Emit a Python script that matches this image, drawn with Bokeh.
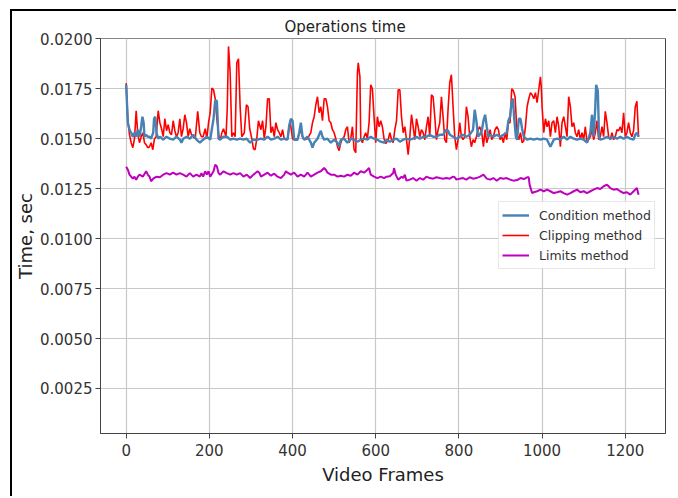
from bokeh.plotting import figure
from bokeh.models import (Range1d, FixedTicker, NumeralTickFormatter, Legend,
                          LegendItem)
from bokeh.embed import file_html
from bokeh.resources import INLINE

# ---- data: (frame, seconds) per method ----
clipping = [
    (0, 0.01778), (4, 0.0159), (8, 0.0152), (12, 0.0148), (16, 0.01455), (20, 0.0150),
    (24, 0.0164), (28, 0.0152), (32, 0.0148), (36, 0.0151), (40, 0.0153), (44, 0.0148),
    (48, 0.0147), (52, 0.01455), (56, 0.0146), (60, 0.0148), (64, 0.01445), (68, 0.0150),
    (72, 0.0151), (77, 0.0164), (81, 0.0158), (85, 0.0155), (89, 0.0151), (93, 0.0160),
    (97, 0.0154), (101, 0.0157), (105, 0.0153), (109, 0.0152), (113, 0.0159), (117, 0.0154),
    (121, 0.0151), (125, 0.0153), (129, 0.0160), (133, 0.0151), (137, 0.0155), (141, 0.0162),
    (145, 0.0158), (149, 0.0151), (153, 0.0155), (157, 0.0152), (161, 0.0151), (166, 0.0150),
    (172, 0.01637), (177, 0.0153), (181, 0.0151), (185, 0.0151), (190, 0.0155), (194, 0.0150),
    (198, 0.0158), (202, 0.0163), (206, 0.01753), (210, 0.01745), (214, 0.0170), (218, 0.0160),
    (223, 0.0151), (227, 0.0150), (230, 0.0153), (234, 0.0155), (240, 0.0151), (243, 0.0165),
    (246, 0.01962), (250, 0.0183), (254, 0.0151), (258, 0.0153), (262, 0.0151), (266, 0.0188),
    (270, 0.0190), (274, 0.0166), (278, 0.0151), (284, 0.0153), (289, 0.0167), (293, 0.0166),
    (297, 0.0155), (302, 0.0150), (306, 0.0145), (310, 0.01445), (314, 0.0150), (318, 0.0159),
    (324, 0.01545), (328, 0.0159), (332, 0.0150), (336, 0.0156), (340, 0.0170), (344, 0.0170),
    (348, 0.0153), (352, 0.0156), (356, 0.0151), (360, 0.0158), (364, 0.01545), (368, 0.0153),
    (372, 0.0151), (376, 0.01545), (380, 0.0150), (384, 0.01495), (388, 0.0150), (394, 0.0159),
    (400, 0.0150), (404, 0.01495), (412, 0.0150), (420, 0.01545), (424, 0.0151), (428, 0.01495),
    (436, 0.0150), (444, 0.0153), (448, 0.0158), (452, 0.0161), (456, 0.0167), (460, 0.0171),
    (464, 0.0163), (468, 0.0166), (472, 0.0159), (476, 0.0170), (480, 0.0170), (484, 0.0166),
    (488, 0.0159), (492, 0.0158), (496, 0.01545), (500, 0.0153), (504, 0.0150), (508, 0.0146),
    (512, 0.0144), (516, 0.0148), (520, 0.0150), (524, 0.0151), (528, 0.01545), (532, 0.0156),
    (536, 0.0148), (540, 0.0150), (544, 0.0156), (548, 0.01445), (552, 0.0143), (556, 0.0183),
    (558, 0.0188), (562, 0.0181), (564, 0.0150), (568, 0.0148), (572, 0.0151), (576, 0.0153),
    (580, 0.0150), (584, 0.0158), (588, 0.0177), (592, 0.0175), (596, 0.0161), (600, 0.0148),
    (604, 0.0161), (608, 0.0156), (612, 0.0159), (616, 0.0156), (620, 0.0150), (624, 0.01475),
    (630, 0.01495), (634, 0.0153), (638, 0.01495), (642, 0.0148), (646, 0.01545), (650, 0.0159),
    (654, 0.01745), (658, 0.01745), (662, 0.0161), (666, 0.0153), (670, 0.0156), (674, 0.01495),
    (678, 0.0142), (682, 0.0151), (686, 0.0162), (690, 0.0156), (694, 0.01495), (698, 0.0160),
    (702, 0.0156), (706, 0.0151), (710, 0.01545), (714, 0.0153), (718, 0.01495), (722, 0.0156),
    (726, 0.0161), (730, 0.0151), (734, 0.0172), (738, 0.0171), (742, 0.0161), (746, 0.01495),
    (750, 0.01545), (754, 0.0158), (758, 0.0171), (762, 0.0161), (766, 0.01495), (770, 0.0148),
    (774, 0.0165), (778, 0.0178), (782, 0.0182), (786, 0.0166), (790, 0.0151), (794, 0.01445),
    (798, 0.01495), (802, 0.0158), (806, 0.0151), (810, 0.01495), (814, 0.0151), (818, 0.0166),
    (822, 0.0161), (826, 0.0151), (830, 0.0146), (834, 0.01495), (838, 0.0148), (842, 0.0151),
    (846, 0.01545), (850, 0.0156), (855, 0.0153), (859, 0.0146), (863, 0.01545), (867, 0.0148),
    (871, 0.0151), (875, 0.01545), (879, 0.01495), (883, 0.0151), (887, 0.01545), (891, 0.0156),
    (895, 0.01545), (899, 0.01495), (903, 0.0151), (907, 0.0148), (911, 0.0153), (915, 0.01495),
    (919, 0.0158), (923, 0.0158), (927, 0.0175), (931, 0.0174), (935, 0.0171), (940, 0.0152),
    (944, 0.01495), (948, 0.0153), (952, 0.0148), (956, 0.0149), (960, 0.0156), (964, 0.0166),
    (968, 0.0170), (972, 0.0173), (976, 0.0172), (980, 0.0170), (984, 0.0173), (988, 0.0168),
    (992, 0.01745), (996, 0.0181), (998, 0.0176), (1000, 0.0166), (1004, 0.0153), (1008, 0.0160),
    (1012, 0.0156), (1016, 0.0159), (1020, 0.0151), (1024, 0.0158), (1028, 0.0159), (1032, 0.0153),
    (1036, 0.0161), (1040, 0.0156), (1044, 0.0146), (1048, 0.0158), (1052, 0.0161), (1056, 0.0156),
    (1060, 0.0151), (1064, 0.0171), (1068, 0.0166), (1072, 0.0156), (1076, 0.0158), (1080, 0.0153),
    (1084, 0.0151), (1088, 0.01545), (1092, 0.01495), (1096, 0.0153), (1100, 0.01495), (1104, 0.0156),
    (1108, 0.0148), (1112, 0.01495), (1116, 0.0151), (1120, 0.01545), (1124, 0.01495), (1128, 0.0153),
    (1132, 0.0159), (1136, 0.01495), (1140, 0.0151), (1144, 0.0156), (1148, 0.0151), (1152, 0.01637),
    (1156, 0.0158), (1160, 0.0151), (1164, 0.01495), (1168, 0.0153), (1172, 0.01495), (1176, 0.0151),
    (1180, 0.01545), (1184, 0.0154), (1188, 0.0156), (1192, 0.0153), (1196, 0.0163), (1200, 0.0151),
    (1204, 0.0153), (1208, 0.0158), (1212, 0.0153), (1216, 0.0151), (1220, 0.0154), (1224, 0.0166),
    (1228, 0.01687), (1232, 0.0151),
]

condition = [
    (0, 0.0177), (4, 0.0158), (8, 0.01545), (12, 0.0153), (16, 0.0151), (20, 0.0153),
    (24, 0.0151), (28, 0.01545), (32, 0.0151), (36, 0.0156), (39, 0.0161), (42, 0.0158),
    (44, 0.0151), (48, 0.0152), (52, 0.0151), (56, 0.0151), (60, 0.0150), (65, 0.0153),
    (67, 0.0160), (70, 0.0161), (73, 0.0153), (77, 0.0150), (81, 0.0151), (89, 0.01495),
    (97, 0.0151), (105, 0.0150), (113, 0.01495), (121, 0.0151), (129, 0.01495), (133, 0.0148),
    (137, 0.0150), (145, 0.0151), (153, 0.0150), (161, 0.0152), (169, 0.01495), (177, 0.0148),
    (185, 0.01495), (194, 0.0151), (202, 0.01495), (210, 0.0160), (214, 0.0169), (218, 0.0169),
    (222, 0.0150), (226, 0.01495), (234, 0.0151), (242, 0.0151), (250, 0.01495), (258, 0.0150),
    (266, 0.01495), (274, 0.0150), (282, 0.01495), (290, 0.0150), (298, 0.0148), (306, 0.01495),
    (316, 0.01495), (324, 0.0150), (332, 0.01495), (340, 0.0151), (348, 0.01495), (356, 0.0150),
    (364, 0.0151), (372, 0.01495), (380, 0.0150), (388, 0.01495), (392, 0.01565), (396, 0.0160),
    (400, 0.0159), (404, 0.01495), (412, 0.01495), (416, 0.0153), (420, 0.0158), (424, 0.0151),
    (428, 0.01495), (436, 0.0151), (444, 0.0148), (448, 0.01455), (452, 0.0148), (460, 0.0150),
    (464, 0.0152), (468, 0.0154), (472, 0.0151), (476, 0.01495), (484, 0.0150), (492, 0.0148),
    (500, 0.01495), (508, 0.0148), (512, 0.0146), (516, 0.01495), (524, 0.0150), (532, 0.0148),
    (540, 0.0150), (548, 0.01495), (556, 0.01485), (564, 0.01495), (572, 0.0150), (580, 0.01495),
    (588, 0.0151), (596, 0.0150), (604, 0.01495), (612, 0.01485), (620, 0.0148), (626, 0.01495),
    (634, 0.01485), (642, 0.01495), (650, 0.0150), (658, 0.01485), (666, 0.01495), (674, 0.0150),
    (682, 0.01495), (690, 0.0150), (698, 0.0151), (706, 0.0150), (714, 0.0151), (722, 0.0151),
    (730, 0.0152), (738, 0.0151), (746, 0.0151), (754, 0.0152), (762, 0.0152), (770, 0.01545),
    (774, 0.0154), (778, 0.0152), (786, 0.0151), (794, 0.0150), (802, 0.0151), (810, 0.0152),
    (818, 0.0151), (826, 0.0152), (834, 0.01545), (838, 0.01645), (842, 0.0159), (846, 0.0151),
    (850, 0.0152), (855, 0.0154), (859, 0.0159), (863, 0.0162), (867, 0.0156), (871, 0.0151),
    (875, 0.0152), (883, 0.0151), (891, 0.0152), (899, 0.0151), (907, 0.0152), (915, 0.0153),
    (919, 0.0159), (923, 0.0161), (927, 0.0169), (930, 0.0170), (933, 0.0160), (937, 0.0151),
    (940, 0.01495), (944, 0.0160), (948, 0.0160), (952, 0.0155), (956, 0.0151), (964, 0.01495),
    (972, 0.0150), (980, 0.01495), (988, 0.0150), (996, 0.01495), (1004, 0.0150), (1012, 0.01495),
    (1020, 0.0146), (1028, 0.01495), (1036, 0.0150), (1044, 0.01495), (1052, 0.0151), (1060, 0.01495),
    (1068, 0.0151), (1076, 0.0150), (1084, 0.01495), (1092, 0.0150), (1100, 0.01495), (1108, 0.0148),
    (1116, 0.0153), (1120, 0.0162), (1124, 0.0151), (1128, 0.0166), (1130, 0.0177), (1134, 0.0174),
    (1137, 0.0151), (1140, 0.01495), (1148, 0.0150), (1156, 0.0151), (1164, 0.0150), (1172, 0.0151),
    (1180, 0.0150), (1188, 0.0151), (1196, 0.0150), (1204, 0.0151), (1212, 0.0150), (1220, 0.01495),
    (1224, 0.0152), (1228, 0.0153), (1232, 0.0151),
]

limits = [
    (0, 0.0136), (4, 0.01345), (8, 0.0132), (12, 0.0131), (16, 0.0130), (20, 0.0131),
    (24, 0.01295), (28, 0.0131), (32, 0.0132), (40, 0.0131), (48, 0.01337), (52, 0.0132),
    (56, 0.0131), (60, 0.01287), (65, 0.0130), (73, 0.0131), (81, 0.01307), (89, 0.0132),
    (97, 0.01328), (105, 0.0132), (113, 0.0133), (121, 0.0132), (129, 0.01328), (137, 0.0132),
    (145, 0.0131), (153, 0.01328), (161, 0.0131), (169, 0.0132), (177, 0.0131), (181, 0.01328),
    (185, 0.0131), (190, 0.01337), (194, 0.0132), (198, 0.01337), (202, 0.0131), (210, 0.01337),
    (214, 0.0137), (218, 0.01362), (222, 0.01328), (226, 0.0132), (234, 0.01337), (242, 0.01328),
    (250, 0.0132), (258, 0.01328), (266, 0.0132), (274, 0.01328), (282, 0.0131), (290, 0.0132),
    (298, 0.01303), (306, 0.0132), (316, 0.01337), (320, 0.0133), (324, 0.0131), (332, 0.0132),
    (340, 0.0133), (348, 0.01315), (356, 0.01325), (364, 0.0131), (372, 0.01303), (380, 0.0132),
    (384, 0.01337), (388, 0.0133), (396, 0.0132), (404, 0.0133), (412, 0.0131), (420, 0.0132),
    (428, 0.0131), (436, 0.0133), (444, 0.0131), (452, 0.0132), (460, 0.0133), (468, 0.01337),
    (476, 0.01353), (480, 0.01345), (484, 0.0133), (492, 0.0132), (500, 0.0132), (508, 0.0131),
    (516, 0.01315), (524, 0.0131), (532, 0.0132), (540, 0.01315), (548, 0.0133), (556, 0.0132),
    (564, 0.01337), (572, 0.0133), (580, 0.01345), (584, 0.01353), (588, 0.0132), (596, 0.0131),
    (604, 0.01303), (612, 0.0131), (620, 0.01303), (626, 0.0131), (634, 0.01312), (642, 0.01328),
    (644, 0.01353), (648, 0.0132), (654, 0.01295), (662, 0.0131), (666, 0.01303), (670, 0.0132),
    (674, 0.0129), (682, 0.01295), (690, 0.01303), (698, 0.0129), (706, 0.01303), (714, 0.01295),
    (722, 0.0131), (730, 0.01303), (738, 0.0130), (746, 0.01307), (754, 0.01303), (762, 0.0130),
    (770, 0.01303), (778, 0.0130), (786, 0.0131), (790, 0.01307), (794, 0.01295), (802, 0.0130),
    (810, 0.01303), (818, 0.01295), (826, 0.01307), (834, 0.0130), (842, 0.01303), (851, 0.0131),
    (859, 0.0132), (863, 0.0131), (867, 0.0130), (875, 0.01295), (883, 0.01303), (891, 0.0129),
    (899, 0.01303), (907, 0.0130), (915, 0.01303), (923, 0.01295), (931, 0.0129), (940, 0.01293),
    (948, 0.01303), (956, 0.01298), (964, 0.01307), (968, 0.01307), (970, 0.0127), (976, 0.01228),
    (980, 0.01232), (988, 0.01237), (996, 0.01245), (1004, 0.01237), (1012, 0.01245), (1020, 0.01237),
    (1028, 0.01228), (1036, 0.01232), (1044, 0.01237), (1052, 0.01228), (1060, 0.0122), (1068, 0.01228),
    (1076, 0.01237), (1084, 0.01245), (1092, 0.01232), (1100, 0.01237), (1108, 0.01228), (1116, 0.01237),
    (1124, 0.01245), (1132, 0.01253), (1140, 0.01248), (1148, 0.01262), (1156, 0.0127), (1160, 0.01262),
    (1164, 0.01253), (1172, 0.01245), (1180, 0.01248), (1188, 0.01237), (1196, 0.01228), (1204, 0.01232),
    (1212, 0.0122), (1220, 0.01237), (1228, 0.01253), (1232, 0.0122),
]

x_ticks = [0, 200, 400, 600, 800, 1000, 1200]
y_ticks = [0.0025, 0.005, 0.0075, 0.01, 0.0125, 0.015, 0.0175, 0.02]

FONT = "DejaVu Sans"

# the figure sits inside a black top/left page rule, offset from the window corner
p = figure(width=666, height=487, output_backend="svg", toolbar_location=None,
           x_range=Range1d(-61.75, 1296.75), y_range=Range1d(0.000246, 0.020015),
           min_border_left=88, min_border_right=13, min_border_top=27,
           min_border_bottom=65, background_fill_color="white",
           border_fill_color="white")
p.margin = (9, 0, 0, 10)
p.styles = {"border-top": "2px solid black", "border-left": "2px solid black"}

p.title.text = "Operations time"
p.title.align = "left"
p.title.offset = 184
p.title.text_font = FONT
p.title.text_font_size = "15px"
p.title.text_font_style = "normal"
p.title.text_color = "#222222"
p.title.standoff = 6

p.outline_line_color = "#444444"
p.outline_line_width = 1

for ax in (p.xaxis[0], p.yaxis[0]):
    ax.axis_line_color = "#444444"
    ax.major_tick_line_color = "#444444"
    ax.major_tick_out = 5
    ax.major_tick_in = 0
    ax.minor_tick_line_color = None
    ax.major_label_text_font = FONT
    ax.major_label_text_font_size = "15px"
    ax.major_label_text_color = "#333333"
    ax.axis_label_text_font = FONT
    ax.axis_label_text_font_size = "18px"
    ax.axis_label_text_font_style = "normal"
    ax.axis_label_text_color = "#222222"

p.xaxis.ticker = FixedTicker(ticks=x_ticks)
p.yaxis.ticker = FixedTicker(ticks=y_ticks)
p.yaxis.formatter = NumeralTickFormatter(format="0.0000")
p.xaxis.axis_label = "Video Frames"
p.yaxis.axis_label = "Time, sec"
p.xaxis.major_label_standoff = 5
p.yaxis.major_label_standoff = 3
p.xaxis.axis_label_standoff = 5
p.yaxis.axis_label_standoff = 1

p.grid.grid_line_color = "#c8c8c8"
p.grid.grid_line_width = 1.2

cx, cy = zip(*clipping)
bx, by = zip(*condition)
lx, ly = zip(*limits)

r_clip = p.line(list(cx), list(cy), line_color="#ff0000", line_width=1.6)
r_cond = p.line(list(bx), list(by), line_color="#4682b4", line_width=2.4)
r_lim = p.line(list(lx), list(ly), line_color="#bf00bf", line_width=2.0)

legend = Legend(
    items=[LegendItem(label="Condition method", renderers=[r_cond]),
           LegendItem(label="Clipping method", renderers=[r_clip]),
           LegendItem(label="Limits method", renderers=[r_lim])],
    location=(398, 164), margin=0, padding=3, spacing=0,
    label_height=20, glyph_height=20, glyph_width=27, label_standoff=10,
    label_text_font=FONT, label_text_font_size="12.5px", label_text_color="#333333",
    border_line_color="#d0d0d0", border_line_width=1,
    background_fill_color="white", background_fill_alpha=0.85,
)
p.add_layout(legend)

open("out.html", "w").write(file_html(p, INLINE))
